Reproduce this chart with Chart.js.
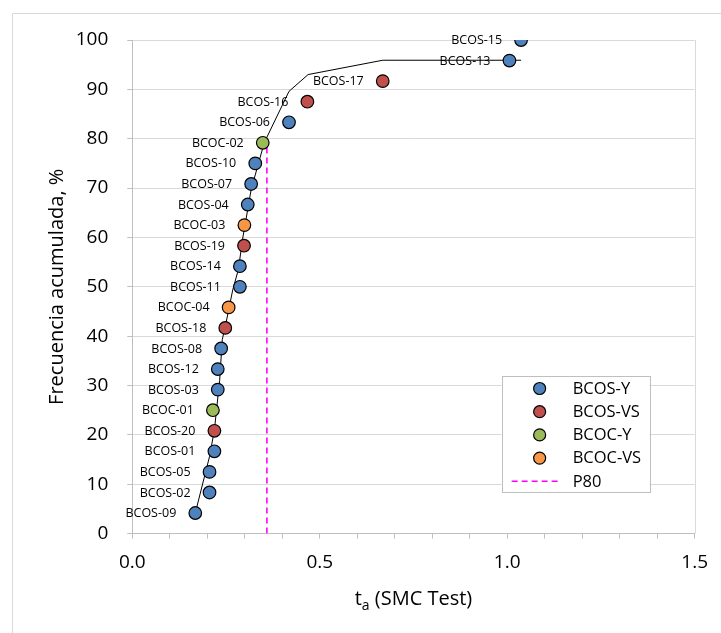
<!DOCTYPE html>
<html>
<head>
<meta charset="utf-8">
<script src="https://cdn.jsdelivr.net/npm/chart.js@4/dist/chart.umd.min.js"></script>
<style>
  html, body { margin: 0; padding: 0; background: #fff; }
  #wrap { width: 721px; height: 633px; position: relative; }
</style>
</head>
<body>
<div id="wrap"><canvas id="chart" width="721" height="633"></canvas></div>
<script>
// Samples, grouped by type: name, t_a (SMC Test) and cumulative frequency (%)
const bcosYNames = ['BCOS-09','BCOS-02','BCOS-05','BCOS-01','BCOS-03','BCOS-12','BCOS-08','BCOS-11','BCOS-14','BCOS-04','BCOS-07','BCOS-10','BCOS-06','BCOS-13','BCOS-15'];
const bcosYTa    = [0.168, 0.206, 0.206, 0.219, 0.228, 0.228, 0.237, 0.287, 0.287, 0.308, 0.317, 0.328, 0.418, 1.006, 1.037];
const bcosYFreq  = [4.17, 8.33, 12.5, 16.67, 29.17, 33.33, 37.5, 50, 54.17, 66.67, 70.83, 75, 83.33, 95.83, 100];

const bcosVsNames = ['BCOS-20','BCOS-18','BCOS-19','BCOS-16','BCOS-17'];
const bcosVsTa    = [0.219, 0.248, 0.298, 0.467, 0.668];
const bcosVsFreq  = [20.83, 41.67, 58.33, 87.5, 91.67];

const bcocYNames = ['BCOC-01','BCOC-02'];
const bcocYTa    = [0.215, 0.348];
const bcocYFreq  = [25, 79.17];

const bcocVsNames = ['BCOC-04','BCOC-03'];
const bcocVsTa    = [0.257, 0.299];
const bcocVsFreq  = [45.83, 62.5];

// Cumulative distribution curve
const curveTa   = [0.168, 0.206, 0.219, 0.233, 0.240, 0.250, 0.268, 0.283, 0.294, 0.317, 0.352, 0.418, 0.469, 0.668, 1.037];
const curveFreq = [4.17, 15.6, 21.0, 31.0, 39.3, 42.7, 49.4, 53.5, 59.6, 69.7, 79.2, 89.6, 93.0, 95.9, 95.9];

// P80 marker line
const p80Ta   = [0.359, 0.359];
const p80Freq = [0, 79.17];

// Axis ranges and labels
const xMin = 0, xMax = 1.5, xStep = 0.1, xLabelEvery = 0.5;
const yMin = 0, yMax = 100, yStep = 10;
const xTitleMain = 't', xTitleSub = 'a', xTitleRest = ' (SMC Test)';
const yTitle = 'Frecuencia acumulada, %';

const toPoints = (xs, ys) => xs.map((x, i) => ({ x: x, y: ys[i] }));

const FONT = '"Open Sans", sans-serif';
Chart.defaults.font.family = FONT;
Chart.defaults.color = '#000';

function markerSet(label, names, xs, ys, color) {
  return {
    label: label,
    pointNames: names,
    data: toPoints(xs, ys),
    backgroundColor: color,
    borderColor: '#000',
    borderWidth: 1.2,
    pointRadius: 6.3,
    pointHoverRadius: 6.3,
    showLine: false
  };
}

const decor = {
  id: 'decor',
  beforeDraw(chart) {
    const { ctx } = chart;
    ctx.save();
    ctx.fillStyle = '#fff';
    ctx.fillRect(0, 0, chart.width, chart.height);
    // chart frame (left and top edges)
    ctx.strokeStyle = '#d9d9d9';
    ctx.lineWidth = 1;
    ctx.beginPath();
    ctx.moveTo(12.5, chart.height);
    ctx.lineTo(12.5, 13.5);
    ctx.lineTo(chart.width, 13.5);
    ctx.stroke();
    ctx.restore();
  },
  beforeDatasetsDraw(chart) {
    const { ctx, chartArea: a } = chart;
    ctx.save();
    // right edge of the plot area
    ctx.strokeStyle = '#d9d9d9';
    ctx.lineWidth = 1;
    const rx = Math.round(a.right) + 0.5;
    ctx.beginPath();
    ctx.moveTo(rx, a.top);
    ctx.lineTo(rx, a.bottom);
    ctx.stroke();
    // sample names to the left of each marker
    ctx.font = '12.5px ' + FONT;
    ctx.fillStyle = '#000';
    ctx.textAlign = 'right';
    ctx.textBaseline = 'middle';
    chart.data.datasets.forEach((ds, i) => {
      if (!ds.pointNames) return;
      chart.getDatasetMeta(i).data.forEach((el, j) => {
        ctx.fillText(ds.pointNames[j], el.x - 19, el.y + 0.5);
      });
    });
    ctx.restore();
  },
  afterDraw(chart) {
    const { ctx, chartArea: a } = chart;
    ctx.save();
    // x-axis title with subscript
    const cx = (a.left + a.right) / 2;
    const base = 605;
    ctx.fillStyle = '#000';
    ctx.textBaseline = 'alphabetic';
    ctx.textAlign = 'left';
    ctx.font = '20px ' + FONT;
    const wMain = ctx.measureText(xTitleMain).width;
    const wRest = ctx.measureText(xTitleRest).width;
    ctx.font = '14px ' + FONT;
    const wSub = ctx.measureText(xTitleSub).width;
    let x = cx - (wMain + wSub + wRest) / 2;
    ctx.font = '20px ' + FONT;
    ctx.fillText(xTitleMain, x, base);
    x += wMain;
    ctx.font = '14px ' + FONT;
    ctx.fillText(xTitleSub, x, base + 5);
    x += wSub;
    ctx.font = '20px ' + FONT;
    ctx.fillText(xTitleRest, x, base);

    // legend box inside the plot area
    const box = { left: a.right - 193, top: 376, right: a.right - 45, bottom: 492 };
    ctx.fillStyle = '#fff';
    ctx.fillRect(box.left, box.top, box.right - box.left, box.bottom - box.top);
    ctx.strokeStyle = '#bfbfbf';
    ctx.lineWidth = 1;
    ctx.strokeRect(Math.round(box.left) + 0.5, box.top + 0.5, Math.round(box.right - box.left), box.bottom - box.top);
    const items = chart.data.datasets.filter(ds => ds.inLegend !== false);
    const markX = box.left + 38, textX = box.left + 71;
    ctx.font = '16.5px ' + FONT;
    ctx.textBaseline = 'middle';
    items.forEach((ds, k) => {
      const y = box.top + 12.5 + k * 23.2;
      if (ds.pointNames) {
        ctx.beginPath();
        ctx.arc(markX, y, 6, 0, Math.PI * 2);
        ctx.fillStyle = ds.backgroundColor;
        ctx.fill();
        ctx.lineWidth = 1.2;
        ctx.strokeStyle = '#000';
        ctx.stroke();
      } else {
        ctx.beginPath();
        ctx.setLineDash(ds.borderDash || []);
        ctx.strokeStyle = ds.borderColor;
        ctx.lineWidth = ds.borderWidth;
        ctx.moveTo(box.left + 10, y);
        ctx.lineTo(box.left + 60, y);
        ctx.stroke();
        ctx.setLineDash([]);
      }
      ctx.fillStyle = '#000';
      ctx.fillText(ds.label, textX, y + 0.5);
    });
    ctx.restore();
  }
};

new Chart(document.getElementById('chart'), {
  type: 'scatter',
  data: {
    datasets: [
      markerSet('BCOS-Y', bcosYNames, bcosYTa, bcosYFreq, '#4F81BD'),
      markerSet('BCOS-VS', bcosVsNames, bcosVsTa, bcosVsFreq, '#C0504D'),
      markerSet('BCOC-Y', bcocYNames, bcocYTa, bcocYFreq, '#9BBB59'),
      markerSet('BCOC-VS', bcocVsNames, bcocVsTa, bcocVsFreq, '#F79646'),
      {
        label: 'P80',
        data: toPoints(p80Ta, p80Freq),
        showLine: true,
        borderColor: '#FF00FF',
        borderWidth: 1.6,
        borderDash: [6, 4],
        pointRadius: 0,
        pointHoverRadius: 0
      },
      {
        label: 'Curva',
        inLegend: false,
        data: toPoints(curveTa, curveFreq),
        showLine: true,
        borderColor: '#000',
        borderWidth: 1,
        pointRadius: 0,
        pointHoverRadius: 0,
        tension: 0
      }
    ]
  },
  options: {
    responsive: false,
    animation: false,
    events: [],
    layout: { padding: { left: 12, top: 40, right: 23, bottom: 0 } },
    plugins: { legend: { display: false }, tooltip: { enabled: false } },
    scales: {
      x: {
        type: 'linear',
        min: xMin, max: xMax,
        afterFit(scale) { scale.height = 99.4; },
        grid: { drawOnChartArea: false, tickLength: 5, color: '#bfbfbf', tickColor: '#bfbfbf' },
        border: { color: '#bfbfbf', width: 1 },
        ticks: {
          stepSize: xStep,
          autoSkip: false,
          maxRotation: 0,
          minRotation: 0,
          padding: 13,
          font: { size: 19 },
          color: '#000',
          callback(v) {
            const r = v / xLabelEvery;
            return Math.abs(r - Math.round(r)) < 1e-6 ? Number(v).toFixed(1) : '';
          }
        }
      },
      y: {
        min: yMin, max: yMax,
        afterFit(scale) { scale.width = 120.3; },
        grid: { color: '#d9d9d9', tickLength: 5, tickColor: '#bfbfbf' },
        border: { color: '#bfbfbf', width: 1 },
        ticks: { stepSize: yStep, padding: 19, font: { size: 19 }, color: '#000' },
        title: {
          display: true,
          text: yTitle,
          font: { size: 20 },
          color: '#000',
          padding: { top: 33, bottom: 0 }
        }
      }
    }
  },
  plugins: [decor]
});
</script>
</body>
</html>
